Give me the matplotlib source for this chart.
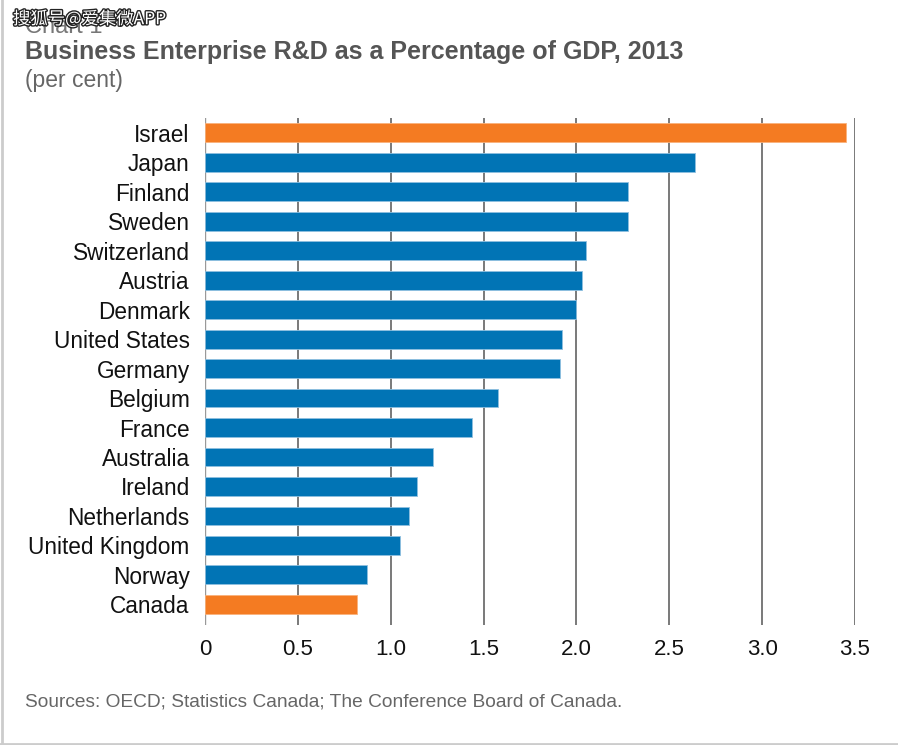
import matplotlib
matplotlib.use("Agg")
import matplotlib.pyplot as plt
import matplotlib.patheffects as pe

plt.rcParams['font.family'] = ['Liberation Sans', 'DejaVu Sans']

countries = ["Israel", "Japan", "Finland", "Sweden", "Switzerland", "Austria",
             "Denmark", "United States", "Germany", "Belgium", "France",
             "Australia", "Ireland", "Netherlands", "United Kingdom", "Norway", "Canada"]
values = [3.45, 2.64, 2.28, 2.28, 2.05, 2.03, 2.00, 1.92, 1.91, 1.58, 1.44,
          1.23, 1.14, 1.10, 1.05, 0.87, 0.82]
highlight = ["Israel", "Canada"]
xticks = [0, 0.5, 1.0, 1.5, 2.0, 2.5, 3.0, 3.5]
xticklabels = ["0", "0.5", "1.0", "1.5", "2.0", "2.5", "3.0", "3.5"]

BLUE = "#0174B5"
ORANGE = "#F47B22"

W, H = 898, 745
fig = plt.figure(figsize=(W / 100, H / 100), dpi=100)
fig.patch.set_facecolor("white")

x0, x1 = 205, 855
y0, y1 = 118, 625
ax = fig.add_axes([x0 / W, 1 - y1 / H, (x1 - x0) / W, (y1 - y0) / H])

n = len(countries)
pos = list(range(n))
colors = [ORANGE if c in highlight else BLUE for c in countries]
edges = ["#f9b27c" if c in highlight else "#8fc0e0" for c in countries]
ax.barh(pos, values, height=0.64, color=colors, edgecolor=edges, linewidth=0.6, zorder=3)

ax.set_ylim(n - 0.5 + 0.2, -0.5)
ax.set_xlim(0, 3.5)
ax.set_xticks(xticks)
ax.set_xticklabels(xticklabels, fontsize=16, color="#111111")
ax.set_yticks(pos)
ax.set_yticklabels(countries, fontsize=16.3, color="#111111")
ax.tick_params(axis="both", length=0)
ax.tick_params(axis="x", pad=10)
ax.tick_params(axis="y", pad=11)
for s in ax.spines.values():
    s.set_visible(False)
ax.grid(axis="x", color="#555555", linewidth=1.1, zorder=1)
ax.axvline(0, color="#999999", linewidth=1.0, zorder=2)
ax.set_axisbelow(True)

# light frame (left and bottom edges)
fig.add_artist(plt.Line2D([1.5 / W, 1.5 / W], [0, 1], color="#cccccc", linewidth=2,
                          transform=fig.transFigure))
fig.add_artist(plt.Line2D([0, 1], [1.5 / H, 1.5 / H], color="#cccccc", linewidth=2,
                          transform=fig.transFigure))

fig.text(25 / W, 1 - 33 / H, "Chart 1", fontsize=17, color="#777777", va="baseline", ha="left")
fig.text(25 / W, 1 - 52 / H, "Business Enterprise R&D as a Percentage of GDP, 2013",
         fontsize=18, fontweight="bold", color="#555555", va="center", ha="left")
fig.text(25 / W, 1 - 80 / H, "(per cent)", fontsize=16.5, color="#666666", va="center", ha="left")
fig.text(25 / W, 1 - 702 / H, "Sources: OECD; Statistics Canada; The Conference Board of Canada.",
         fontsize=13.8, color="#666666", va="center", ha="left")

wm = fig.text(13 / W, 1 - 19 / H, "搜狐号@爱集微APP", fontsize=12.5, color="white",
              va="center", ha="left", family=["Noto Sans CJK SC", "DejaVu Sans"])
wm.set_path_effects([pe.withStroke(linewidth=2, foreground="#222222")])

fig.savefig("out.png", dpi=100, facecolor="white")
